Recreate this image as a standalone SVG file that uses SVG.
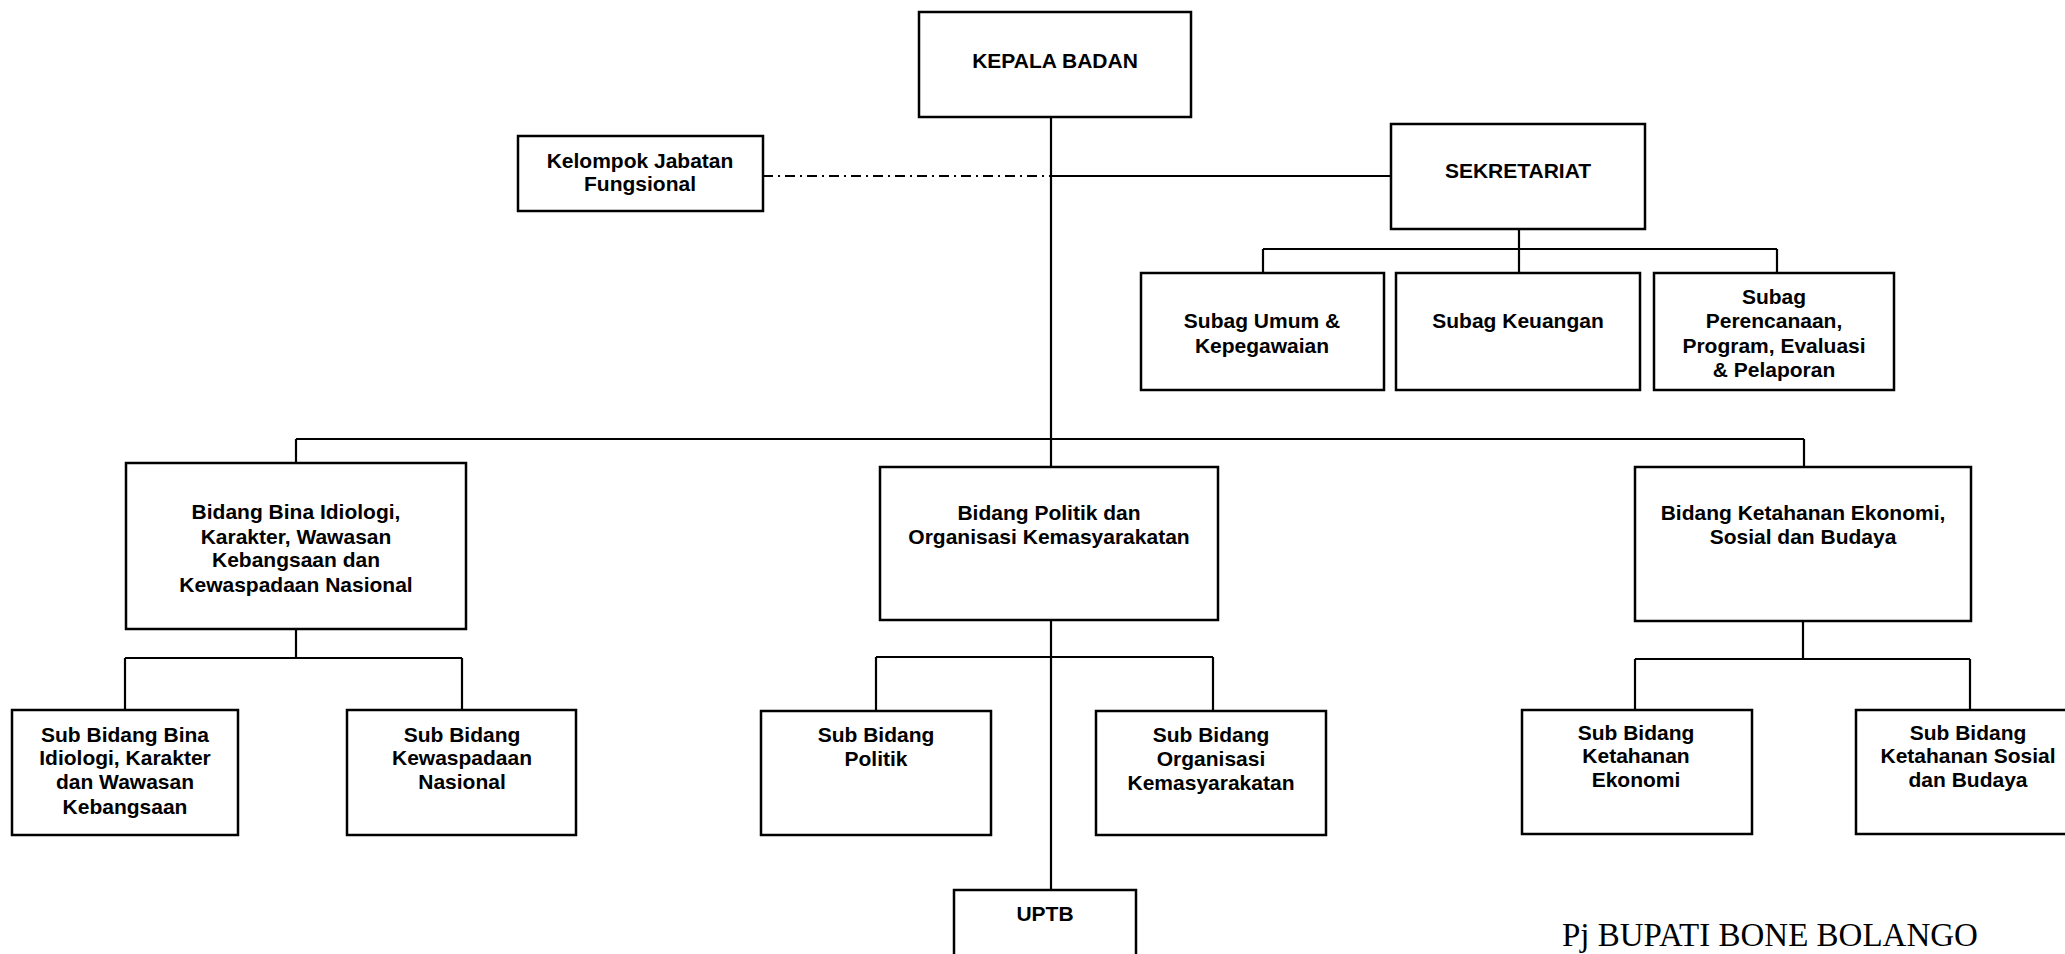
<svg xmlns="http://www.w3.org/2000/svg" width="2065" height="954" viewBox="0 0 2065 954">
<style>
.box{fill:#fff;stroke:#000;stroke-width:2.5}
.t{font-family:"Liberation Sans",Arial,sans-serif;font-weight:bold;font-size:21px;text-anchor:middle;fill:#000}
.ln{stroke:#000;stroke-width:2.2;fill:none}
.dd{stroke:#000;stroke-width:2;fill:none;stroke-dasharray:10 5 2 5}
.ft{font-family:"Liberation Serif","Times New Roman",serif;font-size:33px;fill:#000}
</style>
<rect width="2065" height="954" fill="#fff"/>
<g id="connectors">
<path class="dd" d="M763 176H1051"/>
<path class="ln" d="M1051 116V890M1051 176H1391"/>
<path class="ln" d="M1519 229V249M1263 249H1777M1263 249V273M1519 249V273M1777 249V273"/>
<path class="ln" d="M296 439H1804M296 439V463M1804 439V467"/>
<path class="ln" d="M296 629V658M125 658H462M125 658V710M462 658V710"/>
<path class="ln" d="M876 657H1213M876 657V711M1213 657V711"/>
<path class="ln" d="M1803 621V659M1635 659H1970M1635 659V710M1970 659V710"/>
</g>
<g id="kepala"><rect class="box" x="919" y="12" width="272" height="105"/><text class="t" x="1055" y="68">KEPALA BADAN</text></g>
<g id="kelompok"><rect class="box" x="518" y="136" width="245" height="75"/><text class="t" x="640" y="168">Kelompok Jabatan</text><text class="t" x="640" y="191">Fungsional</text></g>
<g id="sekretariat"><rect class="box" x="1391" y="124" width="254" height="105"/><text class="t" x="1518" y="178">SEKRETARIAT</text></g>
<g id="subag-umum"><rect class="box" x="1141" y="273" width="243" height="117"/><text class="t" x="1262" y="328">Subag Umum &amp;</text><text class="t" x="1262" y="353">Kepegawaian</text></g>
<g id="subag-keuangan"><rect class="box" x="1396" y="273" width="244" height="117"/><text class="t" x="1518" y="328">Subag Keuangan</text></g>
<g id="subag-perencanaan"><rect class="box" x="1654" y="273" width="240" height="117"/><text class="t" x="1774" y="304">Subag</text><text class="t" x="1774" y="328">Perencanaan,</text><text class="t" x="1774" y="353">Program, Evaluasi</text><text class="t" x="1774" y="377">&amp; Pelaporan</text></g>
<g id="bidang-bina"><rect class="box" x="126" y="463" width="340" height="166"/><text class="t" x="296" y="519">Bidang Bina Idiologi,</text><text class="t" x="296" y="544">Karakter, Wawasan</text><text class="t" x="296" y="567">Kebangsaan dan</text><text class="t" x="296" y="592">Kewaspadaan Nasional</text></g>
<g id="bidang-politik"><rect class="box" x="880" y="467" width="338" height="153"/><text class="t" x="1049" y="520">Bidang Politik dan</text><text class="t" x="1049" y="544">Organisasi Kemasyarakatan</text></g>
<g id="bidang-ketahanan"><rect class="box" x="1635" y="467" width="336" height="154"/><text class="t" x="1803" y="520">Bidang Ketahanan Ekonomi,</text><text class="t" x="1803" y="544">Sosial dan Budaya</text></g>
<g id="sub-bina"><rect class="box" x="12" y="710" width="226" height="125"/><text class="t" x="125" y="742">Sub Bidang Bina</text><text class="t" x="125" y="765">Idiologi, Karakter</text><text class="t" x="125" y="789">dan Wawasan</text><text class="t" x="125" y="814">Kebangsaan</text></g>
<g id="sub-kewaspadaan"><rect class="box" x="347" y="710" width="229" height="125"/><text class="t" x="462" y="742">Sub Bidang</text><text class="t" x="462" y="765">Kewaspadaan</text><text class="t" x="462" y="789">Nasional</text></g>
<g id="sub-politik"><rect class="box" x="761" y="711" width="230" height="124"/><text class="t" x="876" y="742">Sub Bidang</text><text class="t" x="876" y="766">Politik</text></g>
<g id="sub-organisasi"><rect class="box" x="1096" y="711" width="230" height="124"/><text class="t" x="1211" y="742">Sub Bidang</text><text class="t" x="1211" y="766">Organisasi</text><text class="t" x="1211" y="790">Kemasyarakatan</text></g>
<g id="sub-ekonomi"><rect class="box" x="1522" y="710" width="230" height="124"/><text class="t" x="1636" y="740">Sub Bidang</text><text class="t" x="1636" y="763">Ketahanan</text><text class="t" x="1636" y="787">Ekonomi</text></g>
<g id="sub-sosial"><rect class="box" x="1856" y="710" width="230" height="124"/><text class="t" x="1968" y="740">Sub Bidang</text><text class="t" x="1968" y="763">Ketahanan Sosial</text><text class="t" x="1968" y="787">dan Budaya</text></g>
<g id="uptb"><rect class="box" x="954" y="890" width="182" height="80"/><text class="t" x="1045" y="921">UPTB</text></g>
<text class="ft" x="1562" y="946">Pj BUPATI BONE BOLANGO</text>
</svg>
